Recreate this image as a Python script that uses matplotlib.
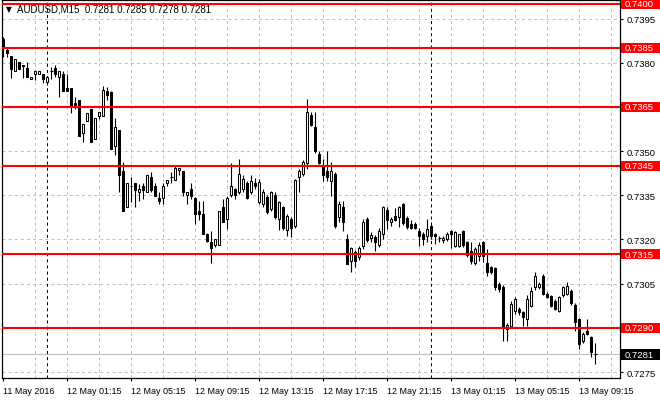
import matplotlib
matplotlib.use("Agg")
import matplotlib.pyplot as plt
from matplotlib.patches import Rectangle
import matplotlib.transforms as mtransforms

# AUDUSD M15 bars, 11 May 2016 21:15 -> 13 May 10:15
opens = [0.73880, 0.73844, 0.73823, 0.73771, 0.73802, 0.73791, 0.73782, 0.73744, 0.73761, 0.73761,
         0.73761, 0.73733, 0.73771, 0.73782, 0.73750, 0.73761, 0.73714, 0.73714, 0.73663, 0.73674,
         0.73560, 0.73601, 0.73642, 0.73540, 0.73620, 0.73620, 0.73705, 0.73700, 0.73519, 0.73572,
         0.73433, 0.73310, 0.73380, 0.73391, 0.73360, 0.73380, 0.73360, 0.73411, 0.73381, 0.73341,
         0.73340, 0.73391, 0.73412, 0.73402, 0.73436, 0.73433, 0.73351, 0.73371, 0.73341, 0.73298,
         0.73287, 0.73219, 0.73193, 0.73181, 0.73181, 0.73311, 0.73270, 0.73351, 0.73371, 0.73360,
         0.73370, 0.73392, 0.73360, 0.73392, 0.73328, 0.73321, 0.73343, 0.73304, 0.73351, 0.73270,
         0.73309, 0.73231, 0.73270, 0.73247, 0.73411, 0.73422, 0.73460, 0.73623, 0.73583, 0.73490,
         0.73451, 0.73434, 0.73400, 0.73422, 0.73275, 0.73309, 0.73202, 0.73128, 0.73157, 0.73140,
         0.73179, 0.73269, 0.73206, 0.73208, 0.73181, 0.73219, 0.73300, 0.73258, 0.73280, 0.73278,
         0.73320, 0.73274, 0.73254, 0.73254, 0.73230, 0.73219, 0.73211, 0.73247, 0.73219, 0.73206,
         0.73197, 0.73200, 0.73230, 0.73179, 0.73179, 0.73228, 0.73191, 0.73162, 0.73121, 0.73145,
         0.73191, 0.73120, 0.73105, 0.73102, 0.73049, 0.73038, 0.72896, 0.72908, 0.72958, 0.72964,
         0.72953, 0.72930, 0.72975, 0.73038, 0.73038, 0.73077, 0.73015, 0.73007, 0.72992, 0.72958,
         0.73010, 0.73015, 0.73026, 0.72978, 0.72930, 0.72857, 0.72890, 0.72868, 0.72810]
highs = [0.73887, 0.73850, 0.73823, 0.73813, 0.73802, 0.73791, 0.73802, 0.73752, 0.73771, 0.73771,
         0.73761, 0.73752, 0.73784, 0.73793, 0.73771, 0.73771, 0.73761, 0.73714, 0.73683, 0.73674,
         0.73592, 0.73631, 0.73642, 0.73611, 0.73634, 0.73721, 0.73718, 0.73705, 0.73611, 0.73572,
         0.73462, 0.73391, 0.73411, 0.73391, 0.73388, 0.73391, 0.73420, 0.73428, 0.73391, 0.73360,
         0.73391, 0.73402, 0.73428, 0.73449, 0.73442, 0.73433, 0.73360, 0.73391, 0.73345, 0.73332,
         0.73332, 0.73222, 0.73230, 0.73200, 0.73298, 0.73339, 0.73349, 0.73461, 0.73375, 0.73473,
         0.73420, 0.73400, 0.73418, 0.73410, 0.73405, 0.73372, 0.73350, 0.73365, 0.73360, 0.73330,
         0.73315, 0.73285, 0.73275, 0.73405, 0.73440, 0.73470, 0.73676, 0.73632, 0.73632, 0.73502,
         0.73473, 0.73499, 0.73462, 0.73430, 0.73330, 0.73332, 0.73220, 0.73175, 0.73165, 0.73178,
         0.73269, 0.73275, 0.73227, 0.73215, 0.73240, 0.73315, 0.73309, 0.73275, 0.73307, 0.73315,
         0.73325, 0.73280, 0.73265, 0.73258, 0.73239, 0.73225, 0.73270, 0.73260, 0.73222, 0.73212,
         0.73211, 0.73225, 0.73232, 0.73230, 0.73219, 0.73232, 0.73195, 0.73191, 0.73175, 0.73191,
         0.73195, 0.73168, 0.73111, 0.73105, 0.73055, 0.73045, 0.72915, 0.72990, 0.73004, 0.72970,
         0.72958, 0.73010, 0.73038, 0.73089, 0.73055, 0.73082, 0.73021, 0.73012, 0.72998, 0.73008,
         0.73043, 0.73054, 0.73032, 0.72983, 0.72935, 0.72885, 0.72930, 0.72872, 0.72850]
lows = [0.73821, 0.73821, 0.73749, 0.73771, 0.73780, 0.73749, 0.73750, 0.73744, 0.73743, 0.73761,
        0.73732, 0.73725, 0.73744, 0.73750, 0.73683, 0.73703, 0.73703, 0.73631, 0.73643, 0.73550,
        0.73530, 0.73601, 0.73530, 0.73540, 0.73609, 0.73620, 0.73672, 0.73507, 0.73488, 0.73360,
        0.73298, 0.73310, 0.73326, 0.73310, 0.73330, 0.73338, 0.73360, 0.73360, 0.73349, 0.73321,
        0.73320, 0.73381, 0.73392, 0.73402, 0.73419, 0.73349, 0.73320, 0.73338, 0.73253, 0.73266,
        0.73219, 0.73190, 0.73120, 0.73173, 0.73181, 0.73260, 0.73236, 0.73343, 0.73337, 0.73355,
        0.73360, 0.73337, 0.73355, 0.73370, 0.73320, 0.73311, 0.73285, 0.73295, 0.73268, 0.73231,
        0.73232, 0.73211, 0.73208, 0.73240, 0.73362, 0.73415, 0.73440, 0.73585, 0.73495, 0.73455,
        0.73400, 0.73398, 0.73349, 0.73240, 0.73258, 0.73230, 0.73117, 0.73089, 0.73106, 0.73130,
        0.73168, 0.73190, 0.73191, 0.73162, 0.73175, 0.73202, 0.73236, 0.73247, 0.73262, 0.73244,
        0.73250, 0.73235, 0.73235, 0.73236, 0.73179, 0.73181, 0.73190, 0.73200, 0.73184, 0.73193,
        0.73188, 0.73195, 0.73170, 0.73175, 0.73175, 0.73175, 0.73140, 0.73117, 0.73115, 0.73128,
        0.73123, 0.73077, 0.73083, 0.73030, 0.73021, 0.72857, 0.72857, 0.72900, 0.72947, 0.72945,
        0.72908, 0.72908, 0.72970, 0.73030, 0.73032, 0.73010, 0.73000, 0.72970, 0.72960, 0.72955,
        0.73005, 0.73010, 0.72978, 0.72891, 0.72828, 0.72850, 0.72875, 0.72800, 0.72778]
closes = [0.73850, 0.73833, 0.73780, 0.73813, 0.73780, 0.73788, 0.73750, 0.73752, 0.73771, 0.73771,
          0.73744, 0.73750, 0.73772, 0.73761, 0.73771, 0.73703, 0.73703, 0.73654, 0.73658, 0.73550,
          0.73592, 0.73631, 0.73530, 0.73611, 0.73634, 0.73709, 0.73692, 0.73507, 0.73581, 0.73420,
          0.73298, 0.73391, 0.73382, 0.73369, 0.73371, 0.73369, 0.73420, 0.73369, 0.73349, 0.73330,
          0.73380, 0.73402, 0.73411, 0.73442, 0.73442, 0.73360, 0.73360, 0.73349, 0.73286, 0.73287,
          0.73219, 0.73196, 0.73170, 0.73200, 0.73298, 0.73260, 0.73341, 0.73380, 0.73351, 0.73422,
          0.73405, 0.73340, 0.73400, 0.73381, 0.73394, 0.73360, 0.73292, 0.73360, 0.73275, 0.73326,
          0.73239, 0.73279, 0.73239, 0.73402, 0.73434, 0.73462, 0.73632, 0.73590, 0.73499, 0.73460,
          0.73420, 0.73411, 0.73431, 0.73247, 0.73321, 0.73258, 0.73117, 0.73170, 0.73128, 0.73171,
          0.73258, 0.73198, 0.73214, 0.73190, 0.73228, 0.73309, 0.73266, 0.73270, 0.73266, 0.73309,
          0.73257, 0.73241, 0.73240, 0.73240, 0.73211, 0.73200, 0.73236, 0.73211, 0.73211, 0.73205,
          0.73206, 0.73219, 0.73219, 0.73224, 0.73219, 0.73181, 0.73148, 0.73128, 0.73168, 0.73181,
          0.73143, 0.73089, 0.73090, 0.73038, 0.73032, 0.72908, 0.72910, 0.72981, 0.72998, 0.72953,
          0.72936, 0.72998, 0.73026, 0.73077, 0.73049, 0.73015, 0.73004, 0.72975, 0.72964, 0.73004,
          0.73038, 0.73043, 0.72983, 0.72919, 0.72845, 0.72879, 0.72879, 0.72817, 0.72810]

time_labels = ["11 May 2016", "12 May 01:15", "12 May 05:15", "12 May 09:15", "12 May 13:15",
               "12 May 17:15", "12 May 21:15", "13 May 01:15", "13 May 05:15", "13 May 09:15"]
time_label_bars = [0, 16, 32, 48, 64, 80, 96, 112, 128, 144]
day_separators = [11, 107]
price_ticks = [0.7275, 0.7290, 0.7305, 0.7320, 0.7335, 0.7350, 0.7365, 0.7380, 0.7395]
levels = [0.7400, 0.7385, 0.7365, 0.7345, 0.7315, 0.7290]
last_price = 0.7281
header = "AUDUSD,M15  0.7281 0.7285 0.7278 0.7281"

plt.rcParams['lines.scale_dashes'] = False
plt.rcParams['font.family'] = ['Liberation Sans', 'DejaVu Sans']

W, H = 660, 410
fig = plt.figure(figsize=(W / 100, H / 100), dpi=100)
ax = fig.add_axes([2 / W, (H - 379) / H, 618 / W, 378 / H])

grid_kw = dict(color='#c0c0c0', lw=0.72, ls=(0, (2.2, 2.2)), zorder=0)
for p in price_ticks:
    ax.axhline(p, **grid_kw)
for b in range(8, 156, 8):
    ax.axvline(b, **grid_kw)
for b in day_separators:
    ax.axvline(b, color='black', lw=0.72, ls=(0, (2.2, 2.2)), zorder=1)

ax.axhline(last_price, color='#c0c0c0', lw=0.8, zorder=1)
for lv in levels:
    ax.axhline(lv, color='#ff0000', lw=1.5, zorder=4)

# candles
for i in range(len(opens)):
    o, h, l, c = opens[i], highs[i], lows[i], closes[i]
    ax.vlines(i, l, h, color='black', lw=0.8, zorder=2)
    lo, hi = min(o, c), max(o, c)
    if hi - lo < 0.00002:
        ax.hlines(o, i - 0.4, i + 0.4, color='black', lw=0.8, zorder=3)
    else:
        face = 'white' if c > o else 'black'
        ax.add_patch(Rectangle((i - 0.27, lo), 0.54, hi - lo, facecolor=face,
                               edgecolor='black', lw=0.75, zorder=3))

ax.set_xlim(-0.33, 154.17)
ax.set_ylim(0.727298, 0.740129)

for s in ax.spines.values():
    s.set_color('black')
    s.set_linewidth(0.9)

ax.yaxis.tick_right()
ax.set_yticks(price_ticks)
ax.set_yticklabels(['%.4f' % p for p in price_ticks])
ax.tick_params(axis='y', length=2.5, width=0.8, pad=2, labelsize=6.8, colors='black')
ax.set_xticks(time_label_bars)
ax.set_xticklabels(time_labels, ha='left')
ax.tick_params(axis='x', length=2.5, width=0.8, pad=3.5, labelsize=6.5, colors='black')

# boxed price labels on the right scale
tr = mtransforms.blended_transform_factory(ax.transAxes, ax.transData)
box_h = 10.5 / 29460
x0 = 621.5 / 618 - 2 / 618
bw = 38.5 / 618
for lv in levels:
    ax.add_patch(Rectangle((x0, lv - box_h / 2), bw, box_h, transform=tr, facecolor='#ff0000',
                           edgecolor='none', clip_on=False, zorder=6))
    ax.text(x0 + 3.5 / 618, lv, '%.4f' % lv, transform=tr, color='white', fontsize=6.8,
            va='center', ha='left', clip_on=False, zorder=7)
ax.add_patch(Rectangle((x0, last_price - box_h / 2), bw, box_h, transform=tr, facecolor='black',
                       edgecolor='none', clip_on=False, zorder=6))
ax.text(x0 + 3.5 / 618, last_price, '%.4f' % last_price, transform=tr, color='white',
        fontsize=6.8, va='center', ha='left', clip_on=False, zorder=7)

fig.text(6 / W, 1 - 10 / H, '▼', fontsize=5.5, va='center', ha='left', family=['DejaVu Sans'])
fig.text(17 / W, 1 - 10 / H, header, fontsize=7, va='center', ha='left')

fig.savefig('out.png', dpi=100, facecolor='white')
